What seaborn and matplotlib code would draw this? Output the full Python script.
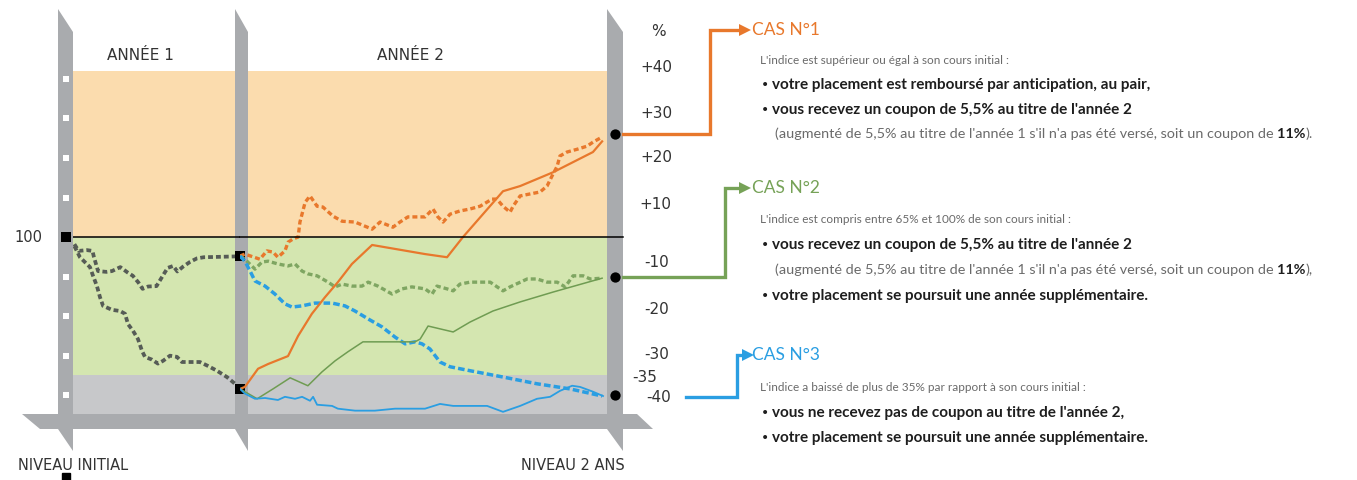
import matplotlib
matplotlib.use("Agg")
import matplotlib.pyplot as plt
from matplotlib.patches import Polygon
import seaborn as sns

# ---- data: months since start, % change vs initial level ----
year1_high_month = [0.1, 0.4, 1.0, 1.4, 1.5, 1.8, 2.4, 2.8, 3.4, 3.9, 4.3, 4.7, 5.0, 5.4, 6.0, 6.5, 6.8,
                    7.2, 7.5, 7.9, 8.4, 8.9, 9.4, 10.5, 11.6, 12.0]
year1_high_pct = [-1.8, -3.5, -3.3, -3.5, -5.0, -8.6, -8.8, -8.6, -7.6, -8.9, -9.8, -11.5, -13.1, -12.5,
                  -12.4, -9.5, -7.8, -7.3, -8.7, -7.5, -6.3, -5.4, -5.1, -5.0, -4.9, -4.8]

year1_low_month = [0.1, 0.5, 1.22, 1.44, 1.72, 1.94, 2.16, 2.8, 3.38, 3.74, 3.95, 4.31, 4.67, 4.96, 5.17,
                   5.68, 6.1, 6.47, 6.97, 7.47, 7.83, 9.12, 9.7, 10.34, 11.06, 11.64, 12.0]
year1_low_pct = [-2.3, -5.1, -7.6, -9.8, -12.4, -15.2, -17.4, -18.4, -18.7, -19.4, -22.0, -23.7, -25.8,
                 -28.8, -30.3, -31.0, -32.0, -31.3, -30.0, -30.3, -31.6, -31.6, -32.6, -33.8, -35.4, -37.1, -38.4]

orange_dash_month = [12.0, 12.16, 12.65, 12.88, 13.08, 13.24, 13.47, 13.57, 13.73, 13.9, 13.96, 14.13, 14.29,
                     14.52, 14.71, 15.04, 15.34, 15.76, 16.32, 16.58, 17.0, 17.23, 17.49, 18.05, 18.31, 18.47,
                     18.64, 18.87, 19.19, 19.52, 19.85, 20.24, 20.4, 20.6, 20.83, 20.93, 21.16, 21.48, 21.81,
                     22.04, 22.2, 22.37, 22.46, 22.69, 23.02, 23.35, 23.54, 23.84]
orange_dash_pct = [-4.8, -4.3, -5.6, -3.5, -3.8, -5.1, -3.5, -1.3, -0.5, 0.0, 3.8, 8.8, 10.4, 7.8, 7.6, 5.3,
                   4.0, 3.8, 2.0, 3.8, 2.5, 3.8, 5.1, 5.1, 7.1, 5.1, 3.8, 5.8, 6.6, 7.1, 7.8, 9.6, 9.6, 7.8,
                   6.3, 7.8, 10.4, 10.9, 11.4, 12.9, 15.4, 17.9, 20.5, 21.5, 22.2, 23.0, 24.0, 25.3]

orange_solid_month = [12.0, 12.16, 12.59, 12.92, 13.57, 13.9, 14.35, 14.78, 15.2, 15.66, 16.32, 18.05, 18.77,
                      19.29, 20.6, 21.16, 22.24, 23.54, 23.84]
orange_solid_pct = [-38.4, -37.9, -33.3, -32.1, -30.1, -25.0, -19.4, -15.2, -11.4, -6.8, -2.0, -4.3, -5.1,
                    0.0, 11.6, 12.9, 16.4, 21.5, 24.2]

green_dash_month = [12.0, 12.16, 12.49, 12.72, 12.92, 13.24, 13.57, 13.8, 14.03, 14.22, 14.52, 14.88, 15.11,
                    15.34, 15.66, 15.99, 16.19, 16.51, 16.97, 17.3, 17.62, 18.05, 18.28, 18.44, 18.77, 18.97,
                    19.19, 19.52, 20.18, 20.6, 20.83, 21.39, 21.71, 22.04, 22.37, 22.63, 22.89, 23.22, 23.45,
                    23.84]
green_dash_pct = [-4.8, -5.6, -8.1, -6.3, -6.1, -6.8, -7.3, -6.8, -8.6, -9.3, -9.8, -11.4, -12.6, -11.9,
                  -12.4, -12.4, -11.4, -12.4, -14.4, -13.1, -12.6, -13.1, -14.4, -12.4, -13.1, -13.6, -11.9,
                  -11.4, -11.4, -13.6, -12.6, -10.6, -10.6, -11.4, -11.4, -12.6, -9.8, -9.8, -10.6, -10.4]

green_solid_month = [12.0, 12.16, 12.56, 13.08, 13.64, 14.22, 14.68, 15.11, 15.53, 16.02, 16.74, 17.72, 17.89,
                     18.15, 18.97, 19.52, 20.27, 21.16, 22.24, 23.84]
green_solid_pct = [-38.4, -39.1, -40.9, -38.4, -35.6, -37.6, -34.1, -31.3, -29.0, -26.5, -26.5, -26.5, -25.8,
                   -22.5, -24.0, -21.5, -18.7, -16.4, -13.9, -10.4]

blue_dash_month = [12.0, 12.16, 12.33, 12.49, 12.82, 13.14, 13.47, 13.7, 14.03, 14.45, 15.01, 15.43, 15.76,
                   16.19, 16.64, 17.07, 17.4, 17.72, 17.95, 18.21, 18.54, 18.87, 19.52, 20.6, 21.71, 22.79, 23.84]
blue_dash_pct = [-4.8, -6.1, -8.6, -11.1, -12.4, -14.4, -16.9, -17.7, -17.4, -16.7, -16.7, -17.4, -18.7,
                 -20.7, -22.7, -25.3, -27.0, -26.5, -27.0, -28.3, -31.6, -32.8, -33.8, -35.4, -37.1, -38.4, -40.2]

blue_solid_month = [12.0, 12.16, 12.49, 12.82, 13.24, 13.47, 13.8, 14.03, 14.29, 14.39, 14.52, 15.01, 15.2,
                    15.76, 16.41, 17.07, 18.05, 18.54, 18.97, 20.08, 20.6, 21.16, 21.71, 22.14, 22.46, 22.86,
                    23.12, 23.54, 23.87]
blue_solid_pct = [-38.4, -39.6, -40.9, -40.7, -41.2, -40.4, -40.9, -40.4, -41.4, -40.4, -42.4, -42.7, -43.4,
                  -43.9, -43.9, -43.4, -43.4, -42.2, -42.7, -42.7, -44.2, -42.7, -40.9, -40.4, -38.9, -37.6,
                  -37.9, -39.1, -40.2]

# zones (% vs initial level)
zone_top, barrier_low, floor_low = 42, -35, -45
left_ticks = [40, 30, 20, 10, -10, -20, -30, -40]
case_levels = [26, -10, -40]
right_labels = ["+40", "+30", "+20", "+10", "-10", "-20", "-30", "-35", "-40"]

ORANGE = "#e8782c"
GREEN = "#76a257"
BLUE = "#2a9ee2"
DARK = "#565c56"
POST = "#a9abae"

NARROW = ["Lato", "DejaVu Sans"]
PLAIN = ["DejaVu Sans"]

W, H = 1357, 481
fig = plt.figure(figsize=(W / 100, H / 100), dpi=100)


def fig_rect(x0, x1, ytop, ybot):
    return [x0 / W, 1 - ybot / H, (x1 - x0) / W, (ybot - ytop) / H]


# ---- background zones ----
bg = fig.add_axes(fig_rect(73, 607, 72, 416), zorder=1)
bg.axhspan(0, zone_top, color="#fbdcae", lw=0)
bg.axhspan(barrier_low, 0, color="#d4e6b0", lw=0)
bg.axhspan(floor_low, barrier_low, color="#c7c8ca", lw=0)
bg.set_ylim(floor_low, zone_top)
bg.set_xlim(0, 1)
bg.axis("off")

# ---- decoration layer in pixel coordinates ----
deco = fig.add_axes([0, 0, 1, 1], zorder=2)
deco.set_xlim(0, W)
deco.set_ylim(H, 0)
deco.axis("off")

deco.add_patch(Polygon([(22, 415), (637, 415), (653, 430), (40, 430)], closed=True, color=POST, lw=0))
for cx, hw in [(65.5, 7.5), (241.5, 6.5), (615, 8)]:
    deco.add_patch(Polygon([(cx - hw, 10), (cx + hw, 33), (cx + hw, 452), (cx - hw, 430)],
                           closed=True, color=POST, lw=0))

lab = dict(family=PLAIN, color="#333333", va="center")
deco.text(140, 55, "ANNÉE 1", fontsize=11, ha="center", **lab)
deco.text(410, 55, "ANNÉE 2", fontsize=11, ha="center", **lab)
deco.text(28, 238, "100", fontsize=10.5, ha="center", **lab)
deco.text(73, 466, "NIVEAU INITIAL", fontsize=10.5, ha="center", **lab)
deco.text(573, 466, "NIVEAU 2 ANS", fontsize=10.5, ha="center", **lab)
deco.text(658, 31, "%", fontsize=11, ha="center", **lab)
label_x = [656, 656, 656, 655, 657, 657, 657, 645, 659]
label_y = [68, 113, 158, 205, 263, 310, 355, 378, 398]
for txt, lx, ly in zip(right_labels, label_x, label_y):
    deco.text(lx, ly, txt, fontsize=11, ha="center", **lab)
deco.plot([66], [478], marker="s", ms=6, color="black", clip_on=False)

# connectors to the three cases
for pts, col in [([(623, 135), (710, 135), (710, 31), (742, 31)], ORANGE),
                 ([(623, 278), (725, 278), (725, 189), (742, 189)], GREEN),
                 ([(686, 398), (737, 398), (737, 356), (745, 356)], BLUE)]:
    xs, ys = zip(*pts)
    deco.plot(xs, ys, color=col, lw=2.4, solid_joinstyle="miter")
    deco.plot([xs[-1] + 3], [ys[-1]], marker=">", ms=8, color=col, mew=0)

renderer = fig.canvas.get_renderer()


def rich(x, y, parts, size):
    for txt, weight, col in parts:
        t = deco.text(x, y, txt, fontsize=size, fontweight=weight, color=col,
                      family=NARROW, va="center", ha="left")
        x += t.get_window_extent(renderer=renderer).width


TXT_L = "#6a6a6a"
TXT_B = "#1e1e1e"
paren = "(augmenté de 5,5% au titre de l'année 1 s'il n'a pas été versé, soit un coupon de "

blocks = [
    ("CAS N°1", ORANGE, 30, [
        ("intro", "L'indice est supérieur ou égal à son cours initial :", 60),
        ("bullet", "votre placement est remboursé par anticipation, au pair,", 85),
        ("bullet", "vous recevez un coupon de 5,5% au titre de l'année 2", 110),
        ("paren", ").", 134)]),
    ("CAS N°2", GREEN, 188, [
        ("intro", "L'indice est compris entre 65% et 100% de son cours initial :", 220),
        ("bullet", "vous recevez un coupon de 5,5% au titre de l'année 2", 245),
        ("paren", "),", 270),
        ("bullet", "votre placement se poursuit une année supplémentaire.", 296)]),
    ("CAS N°3", BLUE, 355, [
        ("intro", "L'indice a baissé de plus de 35% par rapport à son cours initial :", 388),
        ("bullet", "vous ne recevez pas de coupon au titre de l'année 2,", 413),
        ("bullet", "votre placement se poursuit une année supplémentaire.", 438)]),
]
for title, col, ty, lines in blocks:
    deco.text(752, ty, title, fontsize=12.5, color=col, family=NARROW, va="center", ha="left")
    for kind, txt, ly in lines:
        if kind == "intro":
            deco.text(760, ly, txt, fontsize=8.5, color=TXT_L, family=NARROW, va="center", ha="left")
        elif kind == "bullet":
            deco.text(761, ly, "•", fontsize=10, color=TXT_B, family=PLAIN, va="center", ha="left")
            deco.text(772, ly, txt, fontsize=11, fontweight="bold", color=TXT_B, family=NARROW,
                      va="center", ha="left")
        else:
            rich(775, ly, [(paren, "normal", TXT_L), ("11%", "bold", TXT_B), (txt, "normal", TXT_L)], 10.4)

# ---- line layers ----
ax1 = fig.add_axes(fig_rect(73, 240, 72, 416), zorder=3)
ax2 = fig.add_axes(fig_rect(240, 607, 72, 416), zorder=3)

dots = (0, (1.3, 0.8))
sns.lineplot(x=year1_high_month, y=year1_high_pct, ax=ax1, color=DARK, lw=2.7, linestyle=dots,
             estimator=None, sort=False)
sns.lineplot(x=year1_low_month, y=year1_low_pct, ax=ax1, color=DARK, lw=2.7, linestyle=dots,
             estimator=None, sort=False)

series2 = [
    (orange_dash_month, orange_dash_pct, ORANGE, 2.4, (0, (1.5, 0.9))),
    (green_dash_month, green_dash_pct, "#7fa662", 2.4, (0, (1.5, 0.9))),
    (blue_dash_month, blue_dash_pct, BLUE, 2.5, (0, (1.9, 0.9))),
    (green_solid_month, green_solid_pct, "#6f9c52", 1.1, "-"),
    (orange_solid_month, orange_solid_pct, ORANGE, 1.6, "-"),
    (blue_solid_month, blue_solid_pct, BLUE, 1.3, "-"),
]
for mx, py, col, lw, ls in series2:
    sns.lineplot(x=mx, y=py, ax=ax2, color=col, lw=lw, linestyle=ls, estimator=None, sort=False)

for ax, xl in [(ax1, (0, 12)), (ax2, (12, 24))]:
    ax.set_xlim(*xl)
    ax.set_ylim(floor_low, zone_top)
    ax.axis("off")

# 100 level line
ax1.axhline(0, color="black", lw=1.1)
ax2.axhline(0, xmax=1 + 16 / 367, color="black", lw=1.1, clip_on=False)

# markers on the posts
ax1.scatter([-0.5] * len(left_ticks), left_ticks, marker="s", s=16, color="white", lw=0,
            clip_on=False, zorder=5)
ax1.scatter([-0.5, 12, 12], [0, year1_high_pct[-1], year1_low_pct[-1]], marker="s", s=50,
            color="black", lw=0, clip_on=False, zorder=6)
ax2.scatter([24.26] * 3, case_levels, marker="o", s=55, color="black", lw=0, clip_on=False, zorder=6)

fig.savefig("out.png", dpi=100)
